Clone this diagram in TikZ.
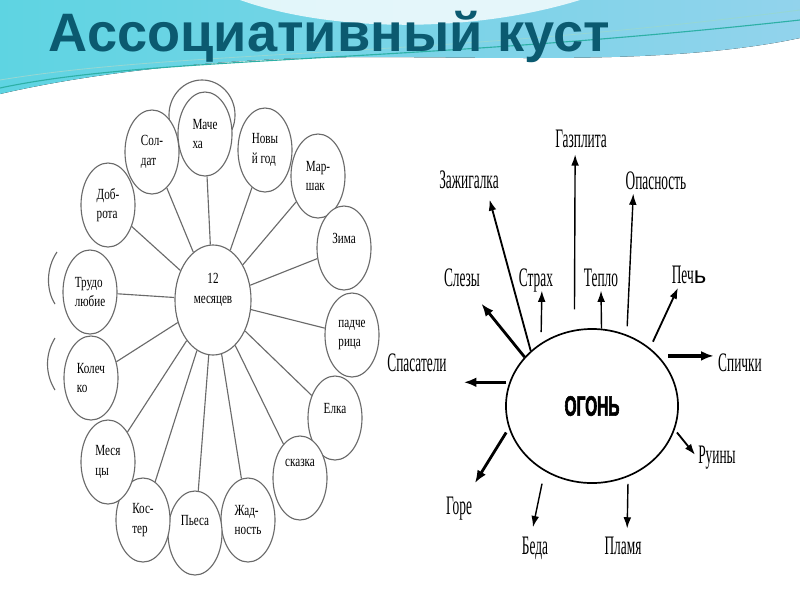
\documentclass[tikz,border=0pt]{standalone}
\usepackage{fontspec}
\setmainfont{Liberation Serif}
\newfontfamily\titlefont{Liberation Sans}
\newfontfamily\plainsans{Liberation Sans}
\newfontfamily\bubfont[FakeStretch=0.72]{Liberation Serif}
\newfontfamily\wordfont[FakeStretch=0.5]{Liberation Serif}
\newfontfamily\ogonfont[FakeStretch=0.55,FakeBold=2]{Liberation Sans Bold}
\usetikzlibrary{arrows.meta,positioning,shapes.geometric}

\definecolor{titleteal}{HTML}{0B5A70}
\definecolor{skycyan}{HTML}{5ED4E2}
\definecolor{skyblue}{HTML}{92D3EC}
\definecolor{wavegreen}{HTML}{2DB0A6}
\definecolor{bubgray}{HTML}{6A6A6A}

\tikzset{
	bub/.style={ellipse, draw=bubgray, line width=0.8pt, fill=white, inner sep=0pt,
		minimum width=1.35cm, minimum height=2.1cm, align=left,
		font=\bubfont\fontsize{11}{14}\selectfont},
	spoke/.style={draw=bubgray, line width=0.8pt},
	word/.style={inner sep=2pt, text height=13pt, text depth=0.5pt,
		font=\wordfont\fontsize{19}{20}\selectfont},
	arr/.style={-{Latex[length=8pt,width=5.5pt]}, line width=1pt},
	fatarr/.style={-{Latex[length=9pt,width=7pt]}, line width=2pt},
}

\begin{document}
\begin{tikzpicture}[x=0.025cm,y=-0.025cm]
		
		\useasboundingbox (0,0) rectangle (800,600);
		\fill[white] (0,0) rectangle (800,600);
		
		\fill[left color=skycyan, right color=skyblue] (0,0) -- (800,0) -- (800,38)
		.. controls (640,72) and (420,50) .. (260,60)
		.. controls (150,66) and (60,80) .. (0,94) -- cycle;
		\fill[white, opacity=0.8] (240,0) .. controls (330,32) and (470,34) .. (580,0) -- cycle;
		\draw[wavegreen, line width=0.8pt] (0,88) .. controls (150,56) and (400,64) .. (800,20);
		\draw[wavegreen!50, line width=0.6pt] (0,80) .. controls (180,50) and (430,58) .. (800,10);
		
		\node[anchor=base west, text=titleteal,
		font=\titlefont\bfseries\fontsize{38.5}{40}\selectfont]
		(title) at (44,51) {Ассоциативный куст};
		
		\draw[spoke] (57,252) .. controls (46,268) and (46,290) .. (55,304);
		\draw[spoke] (55,338) .. controls (45,354) and (45,374) .. (55,390);
		
		\node[bub, minimum width=1.65cm, minimum height=1.75cm] (hid) at (202,115) {};
		\node[bub] (soldat) at (152,152) {Сол-\\дат};
		\node[bub] (macheha) at (205,134) {Маче\\ха};
		\node[bub] (novgod) at (265,150) {Новы\\й год};
		\node[bub] (marshak) at (318,176) {Мар-\\шак};
		\node[bub, text depth=14pt] (zima) at (344,248) {Зима};
		\node[bub] (padch) at (352,335) {падче\\рица};
		\node[bub, text depth=13pt] (elka) at (335,418) {Елка};
		\node[bub, text depth=21pt] (skazka) at (300,478) {сказка};
		\node[bub] (zhad) at (248,520) {Жад-\\ность};
		\node[bub, text depth=18pt] (pesa) at (195,533) {Пьеса};
		\node[bub] (koster) at (143,520) {Кос-\\тер};
		\node[bub] (mesyacy) at (108,462) {Меся\\цы};
		\node[bub] (kolechko) at (91,378) {Колеч\\ко};
		\node[bub] (trud) at (90,292) {Трудо\\любие};
		\node[bub] (dobro) at (108,205) {Доб-\\рота};
		
		\node[bub, minimum width=1.9cm, minimum height=2.75cm] (mes) at (213,300) {};
		\node[align=center, font=\bubfont\fontsize{11}{14}\selectfont]
		(mes-t) at (213,290) {12\\месяцев};
		
		\draw[spoke] (mes) -- (soldat);
		\draw[spoke] (mes) -- (macheha);
		\draw[spoke] (mes) -- (novgod);
		\draw[spoke] (mes) -- (marshak);
		\draw[spoke] (mes) -- (zima);
		\draw[spoke] (mes) -- (padch);
		\draw[spoke] (mes) -- (elka);
		\draw[spoke] (mes) -- (skazka);
		\draw[spoke] (mes) -- (zhad);
		\draw[spoke] (mes) -- (pesa);
		\draw[spoke] (mes) -- (koster);
		\draw[spoke] (mes) -- (mesyacy);
		\draw[spoke] (mes) -- (kolechko);
		\draw[spoke] (mes) -- (trud);
		\draw[spoke] (mes) -- (dobro);
		
		\node[ellipse, draw, line width=1.2pt, minimum width=4.3cm, minimum height=3.85cm,
		font=\ogonfont\fontsize{20}{20}\selectfont] (ogon) at (592,406) {ОГОНЬ};
		
		\node[word] (gaz) at (581,139) {Газплита};
		\node[word] (zazh) at (469,180) {Зажигалка};
		\node[word] (opas) at (656,181) {Опасность};
		\node[word] (slez) at (462,278) {Слезы};
		\node[word] (strah) at (536,278) {Страх};
		\node[word] (teplo) at (601,278) {Тепло};
		\node[word] (pech) at (689,275) {Печ{\plainsans\fontsize{17}{17}\selectfont ь}};
		\node[word] (spas) at (417,363) {Спасатели};
		\node[word] (spich) at (740,363) {Спички};
		\node[word] (ruin) at (717,455) {Руины};
		\node[word] (gore) at (459,506) {Горе};
		\node[word] (beda) at (535,546) {Беда};
		\node[word] (plam) at (623,546) {Пламя};
		
		\draw[arr, shorten <=14.5pt, shorten >=2pt] (ogon.103) -- (gaz.-115);
		\draw[arr, line width=1.3pt, shorten >=5pt] (ogon.138) -- (zazh.-34);
		\draw[arr, shorten <=6pt] (ogon.64) -- (opas.-151);
		\draw[fatarr, shorten >=12pt] (ogon.144) -- (slez.-55);
		\draw[arr, shorten <=7.8pt] (ogon.129) -- (strah.-65);
		\draw[arr] (ogon.83) -- (teplo.south);
		\draw[arr, line width=1.3pt, shorten <=5pt] (ogon.45) -- (pech.-131);
		\draw[fatarr, shorten <=2pt, shorten >=10pt] (ogon.164) -- (ogon.164 -| spas.east);
		\draw[fatarr, line width=2.6pt, shorten <=7pt, shorten >=1pt] (ogon.37) -- (ogon.37 -| spich.west);
		\draw[arr, line width=1.3pt, shorten <=2.5pt] (ogon.-16) -- (ruin.west);
		\draw[arr, shorten <=5pt, shorten >=3.5pt] (ogon.-63) -- (plam.72);
		\draw[arr, shorten <=9pt, shorten >=4.5pt] (ogon.-126) -- (beda.105);
		\draw[fatarr, shorten <=3.5pt, shorten >=8.7pt] (ogon.-165) -- (gore.53);
		
	\end{tikzpicture}
\end{document}
